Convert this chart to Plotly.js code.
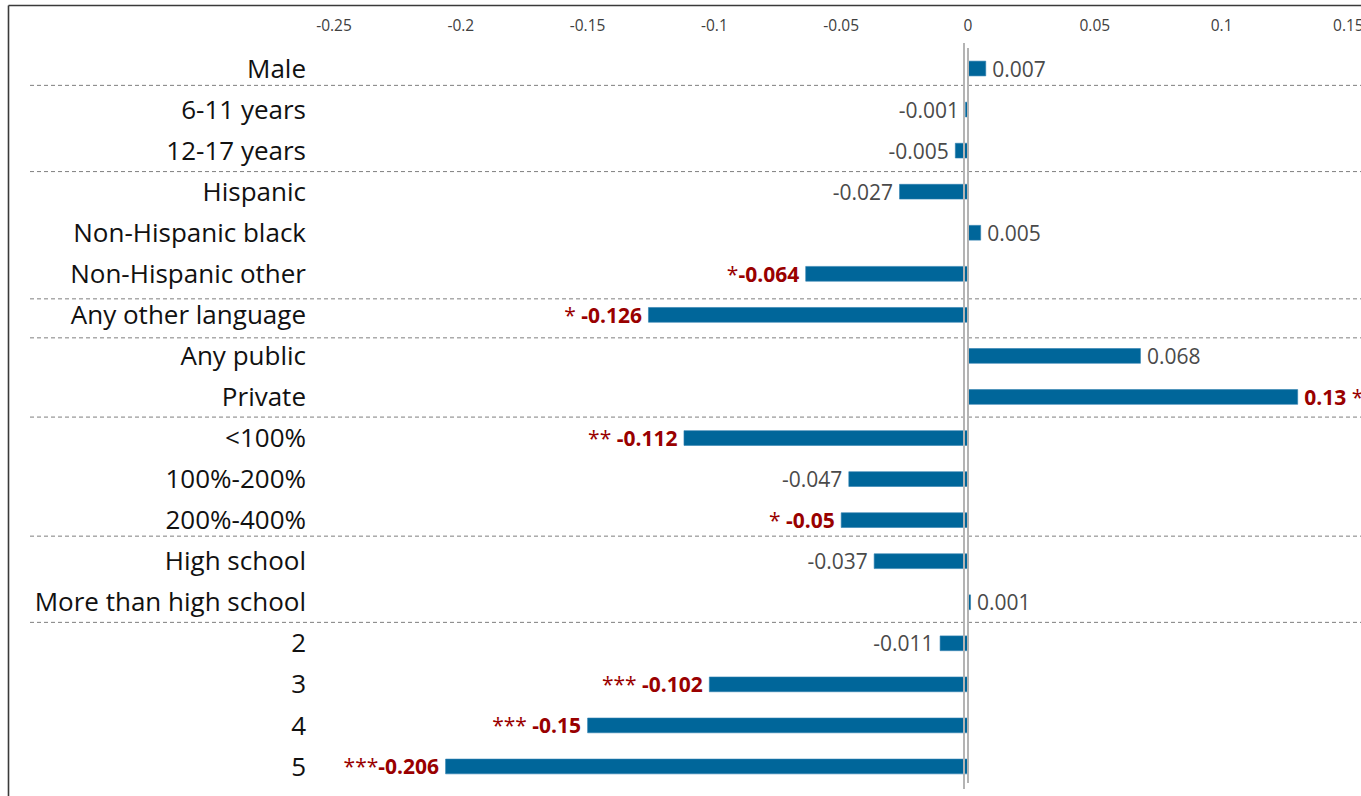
<!DOCTYPE html>
<html>
<head>
<meta charset="utf-8">
<script src="https://cdn.plot.ly/plotly-3.0.1.min.js"></script>
<style>
  html, body { margin: 0; padding: 0; background: #ffffff; }
  #chart { width: 1361px; height: 796px; }
</style>
</head>
<body>
<div id="chart"></div>
<script>
// ---- data ----
const categories = [
  'Male', '6-11 years', '12-17 years', 'Hispanic', 'Non-Hispanic black',
  'Non-Hispanic other', 'Any other language', 'Any public', 'Private',
  '<100%', '100%-200%', '200%-400%', 'High school', 'More than high school',
  '2', '3', '4', '5'
];
const values = [
  0.007, -0.001, -0.005, -0.027, 0.005,
  -0.064, -0.126, 0.068, 0.13,
  -0.112, -0.047, -0.05, -0.037, 0.001,
  -0.011, -0.102, -0.15, -0.206
];
const valueLabels = [
  '0.007', '-0.001', '-0.005', '-0.027', '0.005',
  '*-0.064', '* -0.126', '0.068', '0.13 *',
  '** -0.112', '-0.047', '* -0.05', '-0.037', '0.001',
  '-0.011', '*** -0.102', '*** -0.15', '***-0.206'
];
const tickVals = [-0.25, -0.2, -0.15, -0.1, -0.05, 0, 0.05, 0.1, 0.15];
const tickText = ['-0.25', '-0.2', '-0.15', '-0.1', '-0.05', '0', '0.05', '0.1', '0.15'];
// group separators (category-index units, between rows)
const separators = [0.41, 2.51, 5.61, 6.56, 8.49, 11.39, 13.49];

// ---- layout constants ----
const W = 1361, H = 796;
const M = { l: 334, r: 0, t: 48, b: 9 };
const PW = W - M.l - M.r, PH = H - M.t - M.b;
const px2x = p => (p - M.l) / PW;           // pixel x -> paper x
const py2y = p => 1 - (p - M.t) / PH;       // pixel y -> paper y

const RED = '#990000';
const GREY = '#4a4a4a';
const PAD = '\u2009';

const texts = valueLabels.map((s, i) => {
  let out = s;
  if (s.indexOf('*') !== -1) {
    out = s.replace(/^(\**)(\s*)(.*?)(\s*)(\**)$/, (m, a, sp1, num, sp2, b) =>
      (a ? '<span style="font-weight:normal">' + a + '</span>' : '') + sp1 +
      '<b>' + num + '</b>' + sp2 +
      (b ? '<span style="font-weight:normal">' + b + '</span>' : ''));
  }
  return values[i] >= 0 ? PAD + out : out + PAD;
});
const textColors = valueLabels.map(s => s.indexOf('*') === -1 ? GREY : RED);

const trace = {
  type: 'bar',
  orientation: 'h',
  y: categories,
  x: values,
  width: 0.36,
  marker: { color: '#00669a', line: { color: '#2f7fb0', width: 0.6 } },
  text: texts,
  textposition: 'outside',
  constraintext: 'none',
  cliponaxis: false,
  textfont: { family: 'Open Sans, sans-serif', size: 21, color: textColors },
  hoverinfo: 'none'
};

const shapes = [];
separators.forEach(s => {
  shapes.push({
    type: 'line', xref: 'paper', yref: 'y',
    x0: px2x(30), x1: 1, y0: s, y1: s,
    line: { color: '#7f7f7f', width: 1, dash: '4px,3px' }
  });
});
// double vertical line at zero
shapes.push({
  type: 'line', xref: 'x', yref: 'paper', x0: 0, x1: 0,
  y0: py2y(783), y1: py2y(48),
  line: { color: '#b4b4b4', width: 2 }
});
shapes.push({
  type: 'line', xref: 'x', yref: 'paper', xsizemode: 'pixel', xanchor: 0,
  x0: -4, x1: -4, y0: py2y(789), y1: py2y(43),
  line: { color: '#b4b4b4', width: 2 }
});
// outer frame (top and left)
shapes.push({
  type: 'line', xref: 'paper', yref: 'paper',
  x0: px2x(8.5), x1: 1.01, y0: py2y(5.5), y1: py2y(5.5),
  line: { color: '#3a3a3a', width: 1.6 }
});
shapes.push({
  type: 'line', xref: 'paper', yref: 'paper',
  x0: px2x(8.5), x1: px2x(8.5), y0: py2y(5.5), y1: py2y(800),
  line: { color: '#3a3a3a', width: 1.6 }
});

const layout = {
  width: W, height: H,
  margin: M,
  paper_bgcolor: '#ffffff',
  plot_bgcolor: '#ffffff',
  showlegend: false,
  font: { family: 'Open Sans, sans-serif' },
  xaxis: {
    side: 'top',
    range: [-0.25, (W - 968) / 2536],
    tickvals: tickVals,
    ticktext: tickText,
    tickfont: { family: 'Open Sans, sans-serif', size: 15.5, color: '#404040' },
    ticks: '',
    ticklabelstandoff: 13,
    ticklabeloverflow: 'allow',
    showgrid: false,
    zeroline: false,
    showline: false,
    fixedrange: true
  },
  yaxis: {
    type: 'category',
    autorange: 'reversed',
    tickfont: { family: 'Open Sans, sans-serif', size: 26, color: '#111111' },
    ticks: '',
    ticklabelstandoff: 27,
    showgrid: false,
    zeroline: false,
    showline: false,
    fixedrange: true
  },
  shapes: shapes
};

Plotly.newPlot('chart', [trace], layout, { staticPlot: true, displayModeBar: false });
</script>
</body>
</html>
